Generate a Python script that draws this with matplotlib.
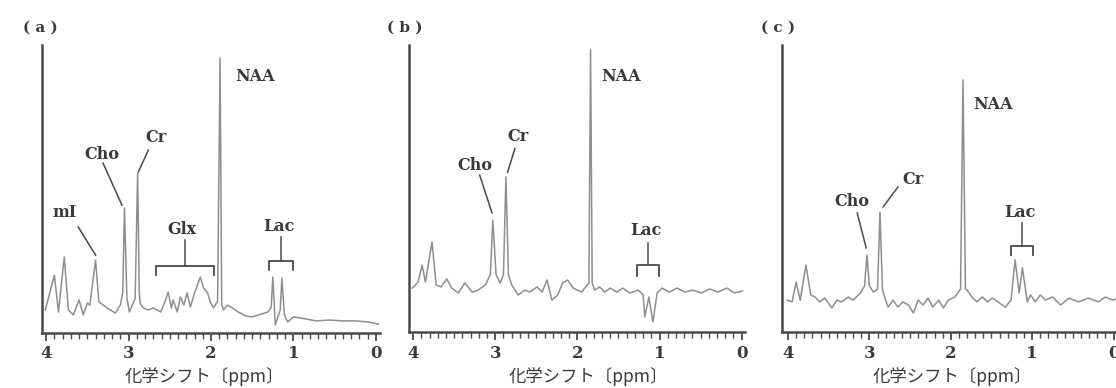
import matplotlib.pyplot as plt
from matplotlib.ticker import MultipleLocator

# spectrum traces (ppm, intensity; axis = 0, top of y axis = 100)
ppm_a = [4.01, 3.90, 3.85, 3.78, 3.73, 3.67, 3.60, 3.55, 3.50, 3.47, 3.40, 3.36, 3.26, 3.16,
         3.10, 3.07, 3.05, 3.02, 2.99, 2.92, 2.89, 2.87, 2.86, 2.82, 2.76, 2.70, 2.61, 2.55,
         2.52, 2.48, 2.46, 2.41, 2.37, 2.33, 2.29, 2.25, 2.20, 2.13, 2.09, 2.04, 2.01, 1.97,
         1.92, 1.89, 1.87, 1.85, 1.80, 1.74, 1.67, 1.58, 1.50, 1.42, 1.31, 1.27, 1.25, 1.22,
         1.16, 1.14, 1.11, 1.07, 1.00, 0.85, 0.73, 0.57, 0.40, 0.24, 0.09, -0.03]
int_a = [8.0, 20.1, 7.3, 26.4, 8.0, 6.3, 11.5, 6.3, 10.4, 9.7, 25.3, 10.8, 8.7, 6.9,
         9.7, 14.0, 43.4, 12.0, 7.3, 12.0, 55.6, 14.0, 10.4, 8.7, 8.0, 8.7, 7.3, 11.5,
         14.2, 8.7, 11.5, 7.3, 12.5, 9.7, 13.9, 9.0, 13.9, 19.4, 15.6, 13.9, 10.8, 8.7,
         11.0, 95.5, 10.0, 8.0, 9.7, 8.7, 7.3, 5.9, 5.6, 6.3, 7.3, 9.0, 19.4, 2.8,
         8.0, 19.1, 6.3, 3.8, 5.6, 4.9, 4.2, 4.5, 4.2, 4.2, 3.8, 3.1]

ppm_b = [4.01, 3.94, 3.89, 3.85, 3.77, 3.72, 3.66, 3.59, 3.53, 3.45, 3.37, 3.28, 3.21, 3.12,
         3.06, 3.03, 2.99, 2.94, 2.90, 2.87, 2.84, 2.80, 2.72, 2.64, 2.58, 2.49, 2.43, 2.37,
         2.31, 2.24, 2.18, 2.12, 2.05, 1.95, 1.91, 1.86, 1.84, 1.82, 1.79, 1.73, 1.67, 1.60,
         1.52, 1.45, 1.36, 1.26, 1.20, 1.18, 1.13, 1.08, 1.03, 0.97, 0.88, 0.79, 0.69, 0.60,
         0.49, 0.39, 0.29, 0.18, 0.09, -0.01]
int_b = [15.3, 17.4, 23.3, 17.4, 31.4, 16.4, 15.7, 18.5, 15.3, 13.6, 17.1, 13.9, 14.6, 16.4,
         20.0, 39.0, 20.0, 17.1, 20.0, 54.0, 20.0, 16.4, 12.9, 14.6, 13.9, 15.7, 13.9, 18.1,
         11.1, 12.9, 17.1, 18.1, 15.3, 13.9, 15.3, 17.0, 98.3, 17.0, 14.6, 15.7, 13.9, 15.3,
         13.9, 15.3, 13.6, 14.6, 12.9, 5.2, 12.2, 3.5, 13.6, 15.3, 13.9, 15.3, 13.9, 14.6,
         13.6, 15.0, 13.9, 15.3, 13.6, 14.3]

ppm_c = [4.01, 3.95, 3.90, 3.85, 3.78, 3.72, 3.67, 3.61, 3.55, 3.46, 3.40, 3.34, 3.26, 3.20,
         3.11, 3.06, 3.03, 3.00, 2.95, 2.90, 2.87, 2.84, 2.81, 2.77, 2.71, 2.65, 2.59, 2.52,
         2.46, 2.40, 2.34, 2.28, 2.22, 2.15, 2.09, 2.03, 1.95, 1.88, 1.85, 1.82, 1.80, 1.74,
         1.68, 1.61, 1.55, 1.49, 1.42, 1.33, 1.26, 1.21, 1.16, 1.12, 1.06, 1.02, 0.96, 0.90,
         0.84, 0.75, 0.65, 0.55, 0.43, 0.31, 0.19, 0.10, 0.01, -0.03]
int_c = [11.1, 10.5, 17.4, 11.1, 23.3, 12.9, 12.2, 10.5, 11.8, 8.4, 11.1, 10.5, 12.2, 11.1,
         13.6, 16.0, 26.8, 16.0, 13.9, 15.0, 41.8, 15.0, 11.8, 8.7, 11.1, 8.7, 10.5, 9.4,
         6.6, 11.1, 9.4, 11.8, 8.7, 11.1, 8.4, 11.1, 12.2, 15.0, 87.8, 15.0, 14.6, 12.2,
         10.5, 12.2, 10.5, 11.8, 10.5, 8.7, 11.1, 25.1, 13.6, 22.3, 10.5, 12.9, 10.5, 12.9,
         11.1, 12.2, 9.4, 11.8, 10.5, 11.8, 10.5, 12.2, 11.1, 11.5]

panel_names = ["( a )", "( b )", "( c )"]
tick_labels = ["4", "3", "2", "1", "0"]
x_label = "化学シフト〔ppm〕"

# peak labels: (text, x, y), leader lines: (x0, y0, x1, y1), brackets: (left, right, y, drop, top)
labels_a = [("NAA", 1.46, 89), ("Cr", 2.67, 68), ("Cho", 3.32, 62), ("mI", 3.77, 42),
            ("Glx", 2.35, 36), ("Lac", 1.18, 37)]
leaders_a = [(2.76, 63.5, 2.88, 56), (3.31, 59, 3.08, 44.4), (3.61, 36.8, 3.40, 27)]
brackets_a = [(2.67, 1.96, 23.3, 20.1, 32.3), (1.30, 1.00, 25.0, 21.9, 33.3)]

labels_b = [("NAA", 1.47, 89), ("Cr", 2.72, 68), ("Cho", 3.25, 58), ("Lac", 1.16, 35.5)]
leaders_b = [(2.76, 64, 2.85, 55.7), (3.19, 54.7, 3.04, 41.5)]
brackets_b = [(1.28, 1.01, 23.3, 19.5, 31.0)]

labels_c = [("NAA", 1.48, 79.4), ("Cr", 2.47, 53.3), ("Cho", 3.21, 45.3), ("Lac", 1.15, 41.8)]
leaders_c = [(2.65, 50.5, 2.83, 43.6), (3.15, 41.5, 3.04, 29.3)]
brackets_c = [(1.26, 0.99, 30.0, 26.8, 38.0)]

LINE = "#8e8e8e"
AXIS = "#4a4a4a"
TEXT = "#3a3a3a"
SERIF = "DejaVu Serif"
JP = ["Noto Sans CJK JP", "DejaVu Sans"]

fig = plt.figure(figsize=(11.16, 3.88), dpi=100)


def draw_panel(rect, xlim, ppm, inten, labels, leaders, brackets, name, name_x, xlabel_x):
    ax = fig.add_axes(rect)
    ax.plot(ppm, inten, color=LINE, lw=1.1, solid_joinstyle="round")
    ax.set_xlim(*xlim)
    ax.set_ylim(0, 100)
    for s in ("top", "right"):
        ax.spines[s].set_visible(False)
    for s in ("left", "bottom"):
        ax.spines[s].set_color(AXIS)
        ax.spines[s].set_linewidth(1.8)
    ax.set_yticks([])
    ax.set_xticks([4, 3, 2, 1, 0])
    ax.set_xticklabels(tick_labels, fontfamily=SERIF, fontweight="bold",
                       fontsize=12, color=TEXT)
    ax.xaxis.set_minor_locator(MultipleLocator(0.1))
    ax.tick_params(axis="x", which="major", direction="out", length=6, width=1.3,
                   color=AXIS, pad=3)
    ax.tick_params(axis="x", which="minor", direction="out", length=4, width=1.0,
                   color=AXIS)

    for txt, x, y in labels:
        ax.text(x, y, txt, ha="center", va="center", fontfamily=SERIF,
                fontweight="bold", fontsize=11.5, color=TEXT)
    for x0, y0, x1, y1 in leaders:
        ax.plot([x0, x1], [y0, y1], color=AXIS, lw=1.1)
    for left, right, y, drop, top in brackets:
        mid = (left + right) / 2
        ax.plot([left, left, right, right], [drop, y, y, drop], color=AXIS, lw=1.3)
        ax.plot([mid, mid], [y, top], color=AXIS, lw=1.1)

    fig.text(name_x, 1 - 28 / 388, name, ha="center", va="center", fontfamily=SERIF,
             fontweight="bold", fontsize=11, color=TEXT)
    fig.text(xlabel_x, 1 - 377 / 388, x_label, ha="center", va="center",
             family=JP, fontsize=12.5, color=TEXT)
    return ax


draw_panel([42 / 1116, 55 / 388, 338 / 1116, 288 / 388], (4.05, -0.05),
           ppm_a, int_a, labels_a, leaders_a, brackets_a, panel_names[0], 40 / 1116, 204 / 1116)
draw_panel([409 / 1116, 56 / 388, 336 / 1116, 287 / 388], (4.05, -0.04),
           ppm_b, int_b, labels_b, leaders_b, brackets_b, panel_names[1], 405 / 1116, 588 / 1116)
draw_panel([782 / 1116, 56 / 388, 334 / 1116, 287 / 388], (4.074, -0.03),
           ppm_c, int_c, labels_c, leaders_c, brackets_c, panel_names[2], 778 / 1116, 952 / 1116)

fig.savefig("out.png", dpi=100)
plt.close(fig)
